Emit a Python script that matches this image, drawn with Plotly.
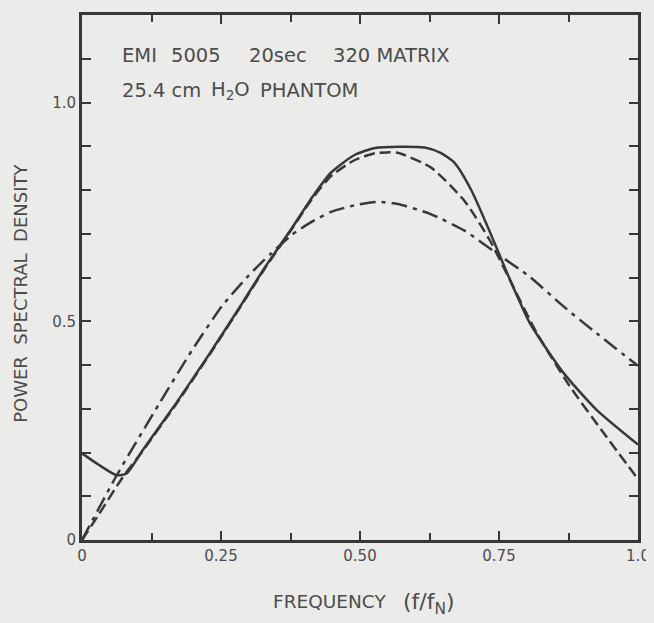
import plotly.graph_objects as go

# ---- data ----
solid_f = [0.0, 0.03, 0.0625, 0.08, 0.11, 0.17, 0.23, 0.29, 0.33, 0.377, 0.415, 0.448, 0.49, 0.527, 0.57, 0.616, 0.645, 0.67, 0.70, 0.73, 0.764, 0.805, 0.866, 0.925, 1.0]
solid_v = [0.198, 0.172, 0.148, 0.152, 0.207, 0.314, 0.427, 0.545, 0.625, 0.712, 0.785, 0.84, 0.88, 0.896, 0.899, 0.897, 0.885, 0.862, 0.80, 0.715, 0.612, 0.497, 0.382, 0.298, 0.218]

dash_f = [0.0, 0.03, 0.073, 0.11, 0.17, 0.23, 0.29, 0.33, 0.377, 0.415, 0.448, 0.49, 0.527, 0.55, 0.568, 0.627, 0.688, 0.734, 0.77, 0.818, 0.877, 0.938, 1.0]
dash_v = [0.0, 0.058, 0.143, 0.205, 0.312, 0.425, 0.543, 0.623, 0.71, 0.782, 0.832, 0.868, 0.884, 0.886, 0.885, 0.852, 0.775, 0.684, 0.593, 0.473, 0.352, 0.245, 0.139]

dashdot_f = [0.0, 0.0625, 0.14, 0.198, 0.252, 0.30, 0.34, 0.377, 0.41, 0.448, 0.49, 0.532, 0.568, 0.627, 0.688, 0.746, 0.805, 0.866, 0.925, 1.0]
dashdot_v = [0.0, 0.148, 0.314, 0.434, 0.535, 0.605, 0.655, 0.697, 0.725, 0.75, 0.765, 0.773, 0.768, 0.745, 0.707, 0.655, 0.602, 0.534, 0.473, 0.398]

x_tick_vals = [0, 0.25, 0.5, 0.75, 1.0]
x_tick_text = ["0", "0.25", "0.50", "0.75", "1.0"]
y_tick_vals = [0, 0.5, 1.0]
y_tick_text = ["0", "0.5", "1.0"]

ink = "#383838"
txt = "#4c4c4c"
paper = "#ebebe9"
font_family = "DejaVu Sans, Verdana, sans-serif"

# page layout (the page body adds an 8px margin)
BODY = 8
W, H = 646, 615
L, R, T, B = 74, 12, 4, 83
PX0, PX1 = BODY + L, BODY + W - R      # plot area x in page pixels
PY0, PY1 = BODY + T, BODY + H - B      # plot area y in page pixels


def px(x):
    return (x - PX0) / (PX1 - PX0)


def py(y):
    return (PY1 - y) / (PY1 - PY0)


fig = go.Figure()
fig.add_trace(go.Scatter(x=solid_f, y=solid_v, mode="lines",
                         line=dict(color=ink, width=2.5, shape="spline", smoothing=0.6)))
fig.add_trace(go.Scatter(x=dash_f, y=dash_v, mode="lines",
                         line=dict(color=ink, width=2.5, dash="11px,5px", shape="spline", smoothing=0.6)))
fig.add_trace(go.Scatter(x=dashdot_f, y=dashdot_v, mode="lines",
                         line=dict(color=ink, width=2.5, dash="16px,6px,4px,6px", shape="spline", smoothing=0.6)))

fig.update_layout(
    width=W, height=H,
    margin=dict(l=L, r=R, t=T, b=B),
    paper_bgcolor=paper, plot_bgcolor=paper,
    showlegend=False,
    font=dict(family=font_family, color=txt, size=15),
)
fig.update_xaxes(
    range=[0, 1.0], tickvals=x_tick_vals, ticktext=x_tick_text,
    ticks="inside", ticklen=9, tickwidth=2, tickcolor=ink,
    minor=dict(dtick=0.125, ticks="inside", ticklen=7, tickwidth=2, tickcolor=ink, showgrid=False),
    showline=True, linecolor=ink, linewidth=3, mirror="ticks",
    showgrid=False, zeroline=False, tickfont=dict(size=15, color=txt),
)
fig.update_yaxes(
    range=[0, 1.2], tickvals=y_tick_vals, ticktext=y_tick_text,
    ticks="inside", ticklen=9, tickwidth=2, tickcolor=ink,
    minor=dict(dtick=0.1, ticks="inside", ticklen=9, tickwidth=2, tickcolor=ink, showgrid=False),
    showline=True, linecolor=ink, linewidth=3, mirror="ticks",
    showgrid=False, zeroline=False, tickfont=dict(size=15, color=txt),
)

header = [
    ("EMI", 120, 53), ("5005", 170, 53), ("20sec", 248, 53), ("320 MATRIX", 333, 53),
    ("25.4 cm", 120, 88), ("H<sub>2</sub>O", 210, 88), ("PHANTOM", 259, 88),
]
for text, x, y in header:
    fig.add_annotation(text=text, xref="paper", yref="paper", x=px(x), y=py(y),
                       xanchor="left", yanchor="middle", showarrow=False,
                       font=dict(size=19.5, color=txt))

fig.add_annotation(text="POWER  SPECTRAL  DENSITY", xref="paper", yref="paper",
                   x=px(20), y=py(292), xanchor="center", yanchor="middle", textangle=-90,
                   showarrow=False, font=dict(size=18, color=txt))
fig.add_annotation(text="FREQUENCY", xref="paper", yref="paper",
                   x=px(272), y=py(602), xanchor="left", yanchor="middle",
                   showarrow=False, font=dict(size=18.5, color=txt))
fig.add_annotation(text="(f/f<sub>N</sub>)", xref="paper", yref="paper",
                   x=px(403), y=py(604), xanchor="left", yanchor="middle",
                   showarrow=False, font=dict(size=22, color=txt))

fig.write_html(
    "out.html",
    post_script="document.body.style.background='%s';"
                "document.documentElement.style.background='%s';" % (paper, paper),
)
